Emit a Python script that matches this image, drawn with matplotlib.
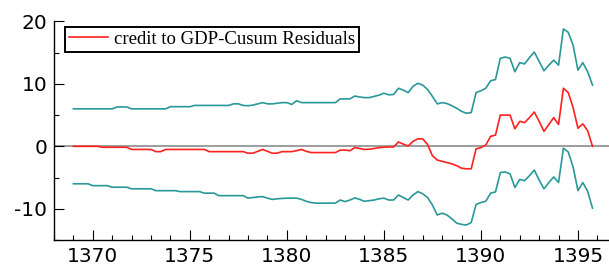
import numpy as np
import matplotlib
matplotlib.use('Agg')
import matplotlib.pyplot as plt
from matplotlib.ticker import MultipleLocator

plt.rcParams['axes.unicode_minus'] = False

# quarterly observations, 1369Q1 .. 1395Q4
start_year = 1369
cusum = [0, 0, 0, 0,
         0, 0, -0.15, -0.15,
         -0.15, -0.15, -0.15, -0.15,
         -0.5, -0.5, -0.5, -0.5,
         -0.5, -0.85, -0.85, -0.5,
         -0.5, -0.5, -0.5, -0.5,
         -0.5, -0.5, -0.5, -0.5,
         -0.85, -0.85, -0.85, -0.85,
         -0.85, -0.85, -0.85, -0.85,
         -1.1, -1.1, -0.8, -0.5,
         -0.8, -1.1, -1.1, -0.85,
         -0.85, -0.85, -0.7, -0.5,
         -0.8, -1.0, -1.0, -1.0,
         -1.0, -1.0, -1.0, -0.6,
         -0.6, -0.7, -0.2, -0.35,
         -0.5, -0.45, -0.35, -0.2,
         -0.15, -0.1, -0.1, 0.7,
         0.35, 0.05, 0.8, 1.2,
         1.2, 0.3, -1.5, -2.2,
         -2.4, -2.6, -2.8, -3.1,
         -3.5, -3.6, -3.6, -0.4,
         -0.2, 0.2, 1.6, 1.8,
         5.0, 5.0, 5.0, 2.8,
         4.0, 3.8, 4.6, 5.5,
         4.0, 2.4, 3.5, 4.6,
         3.5, 9.3, 8.6, 6.2,
         2.9, 3.6, 2.5, 0.0]

upper = [6.0, 6.0, 6.0, 6.0,
         6.0, 6.0, 6.0, 6.0,
         6.0, 6.3, 6.3, 6.3,
         6.0, 6.0, 6.0, 6.0,
         6.0, 6.0, 6.0, 6.0,
         6.35, 6.35, 6.35, 6.35,
         6.35, 6.55, 6.55, 6.55,
         6.55, 6.55, 6.55, 6.55,
         6.55, 6.8, 6.8, 6.55,
         6.5, 6.6, 6.8, 7.0,
         6.8, 6.8, 6.9, 7.0,
         7.0, 6.7, 7.3, 7.0,
         7.0, 7.0, 7.0, 7.0,
         7.0, 7.0, 7.0, 7.6,
         7.6, 7.6, 8.05, 7.9,
         7.8, 7.8, 8.0, 8.2,
         8.5, 8.25, 8.3, 9.3,
         9.0, 8.6, 9.6, 10.1,
         9.8, 9.1, 8.0, 6.8,
         7.0, 6.85, 6.5, 6.1,
         5.6, 5.3, 5.4, 8.6,
         8.9, 9.3, 10.5, 10.7,
         14.1, 14.3, 14.1, 11.95,
         13.4, 13.2, 14.2, 15.1,
         13.6, 12.1, 13.0, 13.8,
         13.0, 18.8, 18.25, 16.2,
         12.2, 13.4, 11.95, 9.8]

lower = [-6.0, -6.0, -6.0, -6.0,
         -6.3, -6.3, -6.3, -6.3,
         -6.55, -6.55, -6.55, -6.55,
         -6.8, -6.8, -6.8, -6.8,
         -6.8, -7.1, -7.1, -7.1,
         -7.1, -7.1, -7.25, -7.25,
         -7.25, -7.25, -7.25, -7.5,
         -7.5, -7.5, -7.9, -7.9,
         -7.9, -7.9, -7.9, -7.9,
         -8.3, -8.2, -8.1, -8.05,
         -8.3, -8.5, -8.4, -8.35,
         -8.3, -8.3, -8.3, -8.5,
         -8.8, -9.0, -9.1, -9.1,
         -9.1, -9.1, -9.1, -8.6,
         -8.85, -8.6, -8.25, -8.5,
         -8.8, -8.7, -8.6, -8.4,
         -8.3, -8.6, -8.6, -7.8,
         -8.2, -8.6, -7.8, -7.25,
         -7.6, -8.2, -9.4, -11.0,
         -10.7, -11.0, -11.6, -12.3,
         -12.5, -12.6, -12.2, -9.3,
         -9.0, -8.8, -7.5, -7.3,
         -4.2, -4.1, -4.4, -6.6,
         -5.3, -5.5, -4.7, -3.8,
         -5.4, -6.8, -5.8, -4.9,
         -5.8, -0.3, -0.9, -3.3,
         -7.1, -5.8, -7.2, -9.9]

x = start_year + np.arange(len(cusum)) / 4.0

teal = '#2a9898'
red = '#ff2020'

fig = plt.figure(figsize=(6.09, 2.68), dpi=100)
ax = fig.add_axes([0.0887, 0.1045, 0.9113, 0.8155])

ax.axhline(0, color='#8c8c8c', lw=1.2, zorder=1)
ax.plot(x, upper, color=teal, lw=1.2)
ax.plot(x, cusum, color=red, lw=1.2, label='credit to GDP-Cusum Residuals')
ax.plot(x, lower, color=teal, lw=1.2)

ax.set_xlim(1368, 1396.6)
ax.set_ylim(-15, 20)
ax.xaxis.set_major_locator(MultipleLocator(5))
ax.xaxis.set_minor_locator(MultipleLocator(1))
ax.yaxis.set_major_locator(MultipleLocator(10))
ax.yaxis.set_minor_locator(MultipleLocator(5))

for s in ['top', 'right']:
    ax.spines[s].set_visible(False)
for s in ['left', 'bottom']:
    ax.spines[s].set_linewidth(1.0)

ax.tick_params(which='major', direction='in', length=7.2, width=0.8,
               labelsize=14.5, pad=5, colors='black')
ax.tick_params(which='minor', direction='in', length=3.6, width=0.8)
ax.tick_params(axis='x', which='major', pad=5)

leg = ax.legend(loc='upper left', bbox_to_anchor=(0.1067, 0.899),
                bbox_transform=fig.transFigure, fancybox=False,
                framealpha=1, edgecolor='black', borderpad=0.2,
                handlelength=2.1, handletextpad=0.3, borderaxespad=0,
                prop={'family': 'Liberation Serif', 'size': 13.5})
leg.get_frame().set_linewidth(1.4)

fig.savefig('out.png', dpi=100)
